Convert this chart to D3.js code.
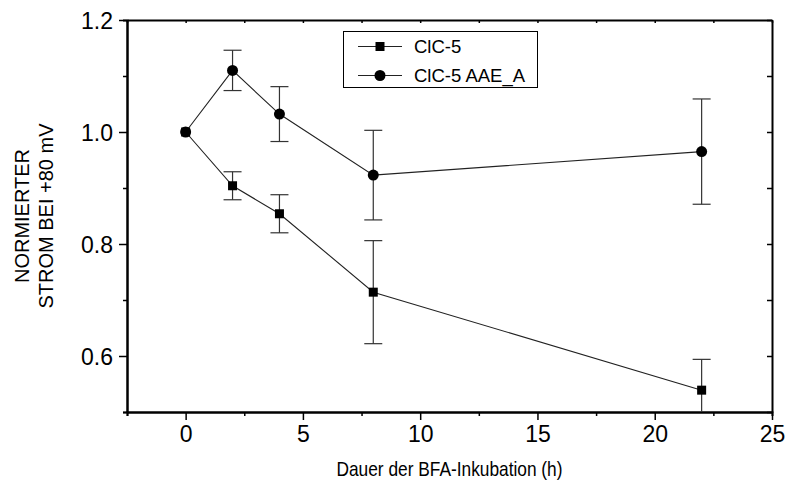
<!DOCTYPE html>
<html>
<head>
<meta charset="utf-8">
<script src="https://cdn.jsdelivr.net/npm/d3@7"></script>
<style>
  body { margin: 0; background: #fff; }
  svg text { font-family: Arial, "Liberation Sans", sans-serif; fill: #000; }
</style>
</head>
<body>
<div id="chart"></div>
<script>
// Data
const hours = [0, 2, 4, 8, 22];
const clc5 = [1.0, 0.904, 0.854, 0.714, 0.539];
const clc5Err = [0, 0.025, 0.034, 0.092, 0.055];
const clc5AAE = [1.0, 1.110, 1.032, 0.923, 0.965];
const clc5AAEErr = [0, 0.036, 0.049, 0.080, 0.094];
const seriesNames = ['ClC-5', 'ClC-5 AAE_A'];
const xTicks = [0, 5, 10, 15, 20, 25];
const yTicks = [0.6, 0.8, 1.0, 1.2];

const width = 787, height = 484;
const margin = { top: 20, right: 15, bottom: 72, left: 127 };

const svg = d3.select('#chart').append('svg')
    .attr('width', width)
    .attr('height', height);

const x = d3.scaleLinear().domain([-2.5, 25]).range([margin.left, width - margin.right]);
const y = d3.scaleLinear().domain([0.5, 1.2]).range([height - margin.bottom, margin.top]);

const x0 = x.range()[0], x1 = x.range()[1];
const y0 = y.range()[0], y1 = y.range()[1];

// clip for error bars running below the axis
svg.append('defs').append('clipPath').attr('id', 'plot-clip')
    .append('rect')
    .attr('x', x0).attr('y', y1)
    .attr('width', x1 - x0).attr('height', y0 - y1);

// Axes
const minorX = d3.range(-2.5, 25.01, 2.5);
const minorY = d3.range(0.5, 1.201, 0.1);

const gx = svg.append('g').attr('transform', `translate(0,${y0})`)
    .call(d3.axisBottom(x).tickValues(xTicks).tickSize(8).tickSizeOuter(0).tickPadding(6));
const gxMinor = svg.append('g').attr('transform', `translate(0,${y0})`)
    .call(d3.axisBottom(x).tickValues(minorX.filter(v => !xTicks.includes(v))).tickSize(4).tickFormat(''));
const gxTop = svg.append('g').attr('transform', `translate(0,${y1})`)
    .call(d3.axisBottom(x).tickValues(minorX).tickSize(3).tickSizeOuter(0).tickFormat(''));

const gy = svg.append('g').attr('transform', `translate(${x0},0)`)
    .call(d3.axisLeft(y).tickValues(yTicks).tickSize(8).tickSizeOuter(0).tickPadding(6).tickFormat(d3.format('.1f')));
const gyMinor = svg.append('g').attr('transform', `translate(${x0},0)`)
    .call(d3.axisLeft(y).tickValues([0.5, 0.7, 0.9, 1.1]).tickSize(4).tickFormat(''));
const gyRight = svg.append('g').attr('transform', `translate(${x1},0)`)
    .call(d3.axisLeft(y).tickValues(minorY).tickSize(5).tickSizeOuter(0).tickFormat(''));

[gx, gxMinor, gxTop, gy, gyMinor, gyRight].forEach(g => {
    g.selectAll('.domain').attr('stroke', '#000').attr('stroke-width', 2);
    g.selectAll('.tick line').attr('stroke', '#000').attr('stroke-width', 1.5);
});
gx.selectAll('.tick text').attr('font-size', 23);
gy.selectAll('.tick text').attr('font-size', 23).attr('dy', '0.36em');

// Axis titles
svg.append('text')
    .attr('x', (x0 + x1) / 2)
    .attr('y', 476)
    .attr('text-anchor', 'middle')
    .attr('font-size', 21)
    .attr('textLength', 226)
    .attr('lengthAdjust', 'spacingAndGlyphs')
    .text('Dauer der BFA-Inkubation (h)');

const yTitle = svg.append('text')
    .attr('transform', `translate(0,${(y0 + y1) / 2}) rotate(-90)`)
    .attr('text-anchor', 'middle')
    .attr('font-size', 20);
yTitle.append('tspan').attr('x', 0).attr('y', 29).text('NORMIERTER');
yTitle.append('tspan').attr('x', 0).attr('y', 53).text('STROM BEI +80 mV');

// Series
const series = [
    { name: seriesNames[0], vals: clc5, err: clc5Err, shape: 'square' },
    { name: seriesNames[1], vals: clc5AAE, err: clc5AAEErr, shape: 'circle' }
];

const plot = svg.append('g');
const line = d3.line().x((d, i) => x(hours[i])).y(d => y(d));

series.forEach(s => {
    // error bars
    const eb = plot.append('g').attr('clip-path', 'url(#plot-clip)');
    s.vals.forEach((v, i) => {
        if (!s.err[i]) return;
        const cx = x(hours[i]);
        const top = y(v + s.err[i]), bot = y(v - s.err[i]);
        eb.append('line').attr('x1', cx).attr('x2', cx).attr('y1', top).attr('y2', bot)
            .attr('stroke', '#333').attr('stroke-width', 1.2);
        [top, bot].forEach(yy => {
            eb.append('line').attr('x1', cx - 9).attr('x2', cx + 9).attr('y1', yy).attr('y2', yy)
                .attr('stroke', '#333').attr('stroke-width', 1.2);
        });
    });
    plot.append('path')
        .attr('d', line(s.vals))
        .attr('fill', 'none')
        .attr('stroke', '#222')
        .attr('stroke-width', 1.1);
});

function drawMarker(g, shape, cx, cy) {
    if (shape === 'square') {
        g.append('rect').attr('x', cx - 4.5).attr('y', cy - 4.5).attr('width', 9).attr('height', 9).attr('fill', '#000');
    } else {
        g.append('circle').attr('cx', cx).attr('cy', cy).attr('r', 5.5).attr('fill', '#000');
    }
}

series.forEach(s => {
    s.vals.forEach((v, i) => drawMarker(plot, s.shape, x(hours[i]), y(v)));
});

// Legend
const legend = svg.append('g');
legend.append('rect')
    .attr('x', 343.5).attr('y', 31.5).attr('width', 194).attr('height', 56)
    .attr('fill', '#fff').attr('stroke', '#000').attr('stroke-width', 1);
series.forEach((s, i) => {
    const ly = 46.5 + i * 29;
    legend.append('line').attr('x1', 358).attr('x2', 402).attr('y1', ly).attr('y2', ly)
        .attr('stroke', '#222').attr('stroke-width', 1.1);
    drawMarker(legend, s.shape, 380, ly);
    legend.append('text').attr('x', 414).attr('y', ly).attr('dy', '0.36em')
        .attr('font-size', 18.5).text(s.name);
});
</script>
</body>
</html>
